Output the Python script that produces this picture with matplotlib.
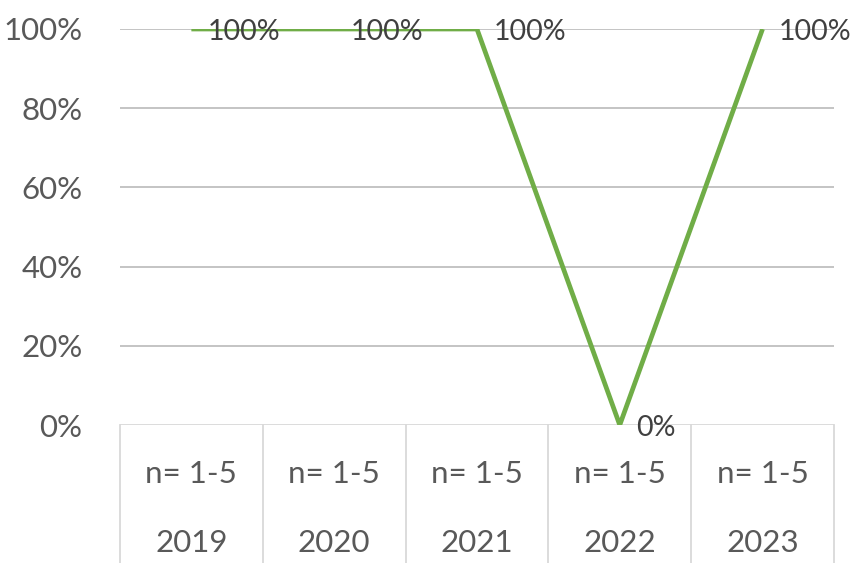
import matplotlib.pyplot as plt
from matplotlib.ticker import PercentFormatter

years = ['2019', '2020', '2021', '2022', '2023']
n_labels = ['n= 1-5', 'n= 1-5', 'n= 1-5', 'n= 1-5', 'n= 1-5']
share = [100, 100, 100, 0, 100]

plt.rcParams['font.family'] = ['Lato', 'DejaVu Sans']
text_color = '#595959'
fs = 22.5

fig = plt.figure(figsize=(8.6, 5.63), dpi=100)
ax = fig.add_axes([0.1395, 0.2451, 0.8302, 0.7034])

x = list(range(len(years)))
ax.plot(x, share, color='#70AD47', linewidth=3.4, solid_capstyle='butt', zorder=3)

# data labels to the right of each point
for xi, v in zip(x, share):
    ax.annotate(f'{v}%', (xi, v), xytext=(12, -2), textcoords='offset points',
                ha='left', va='center', fontsize=20.5, color='#404040', zorder=4)

ax.set_xlim(-0.5, len(years) - 0.5)
ax.set_ylim(0, 100)
ax.set_yticks([0, 20, 40, 60, 80, 100])
ax.yaxis.set_major_formatter(PercentFormatter(decimals=0))
ax.tick_params(axis='y', length=0, pad=27, labelsize=fs, labelcolor=text_color)
ax.set_xticks([])
for s in ax.spines.values():
    s.set_visible(False)

for yv in [20, 40, 60, 80, 100]:
    ax.axhline(yv, color='#BFBFBF', linewidth=1.3, zorder=1)
ax.axhline(0, color='#D9D9D9', linewidth=1.3, zorder=1)

# category box separators
trans = ax.get_xaxis_transform()
for b in [i - 0.5 for i in range(len(years) + 1)]:
    ax.plot([b, b], [0, -0.36], color='#D9D9D9', linewidth=1.3,
            transform=trans, clip_on=False)

for xi, nl, yr in zip(x, n_labels, years):
    ax.text(xi, -0.124, nl, transform=trans, ha='center', va='center',
            fontsize=fs, color=text_color)
    ax.text(xi, -0.298, yr, transform=trans, ha='center', va='center',
            fontsize=fs, color=text_color)

fig.savefig('out.png', dpi=100)
